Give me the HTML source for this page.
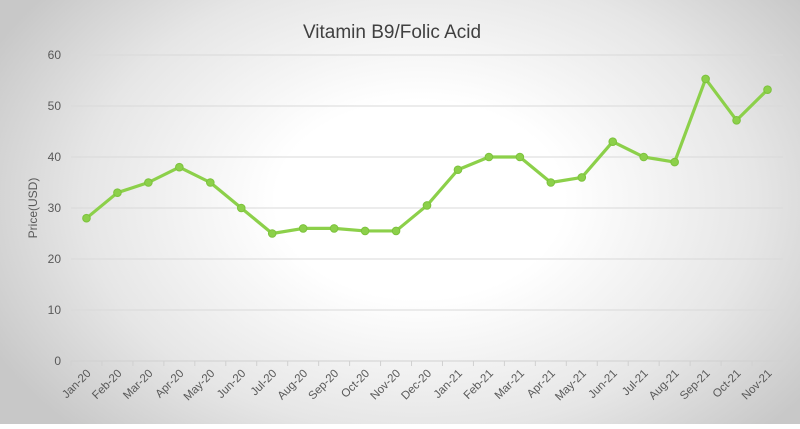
<!DOCTYPE html>
<html><head><meta charset="utf-8"><style>
body{margin:0;width:800px;height:424px;overflow:hidden}
#c{width:800px;height:424px;background:radial-gradient(ellipse 480px 330px at 420px 200px,#fff 30%,#e6e6e6 70%,#c8c8c8 100%);}
text{font-family:"Liberation Sans",sans-serif;fill:#595959}
</style></head><body>
<div id="c">
<svg id="s" width="800" height="424">
<text x="392" y="38" text-anchor="middle" font-size="19" style="fill:#404040">Vitamin B9/Folic Acid</text>
<text transform="translate(37,208) rotate(-90)" text-anchor="middle" font-size="12">Price(USD)</text>
<g id="grid"></g><g id="xl"></g><g id="line"></g>
</svg></div>
<script>
const categories=["Jan-20","Feb-20","Mar-20","Apr-20","May-20","Jun-20","Jul-20","Aug-20","Sep-20","Oct-20","Nov-20","Dec-20","Jan-21","Feb-21","Mar-21","Apr-21","May-21","Jun-21","Jul-21","Aug-21","Sep-21","Oct-21","Nov-21"];
const prices=[28,33,35,38,35,30,25,26,26,25.5,25.5,30.5,37.5,40,40,35,36,43,40,39,55.3,47.2,53.2];
const yTicks=[0,10,20,30,40,50,60];
const NS="http://www.w3.org/2000/svg";
const x0=71,x1=783,y0=361,y60=55;
const bw=(x1-x0)/categories.length;
const X=i=>x0+bw*(i+0.5);
const Y=v=>y0-(v/60)*(y0-y60);
function mk(t,a,p){const e=document.createElementNS(NS,t);for(const k in a)e.setAttribute(k,a[k]);p.appendChild(e);return e;}
const g=document.getElementById('grid');
yTicks.forEach(v=>{
 const l=mk('line',{x1:x0,x2:x1,y1:Y(v),y2:Y(v),stroke:v?'#d9d9d9':'#d0d0d0','stroke-width':1},g);
 
 
 const t=mk('text',{x:61,y:Y(v)+4,'text-anchor':'end','font-size':12},g);t.textContent=v;
 
 
});
const xl=document.getElementById('xl');
categories.forEach((c,i)=>{
 const tk=mk('line',{x1:x0+bw*i,x2:x0+bw*i,y1:y0,y2:y0+5,stroke:'#d0d0d0'},xl);
 
 
 const t=mk('text',{transform:`translate(${X(i)+5},${y0+13}) rotate(-45)`,'text-anchor':'end','font-size':11.5},xl);t.textContent=c;
 
 
});
const lg=document.getElementById('line');
const p=mk('polyline',{points:prices.map((v,i)=>X(i)+','+Y(v)).join(' '),fill:'none',stroke:'#8cd04a','stroke-width':3.2,'stroke-linejoin':'round'},lg);


prices.forEach((v,i)=>{
 const c=mk('circle',{cx:X(i),cy:Y(v),r:3.8,fill:'#8cd04a',stroke:'#7cc23c','stroke-width':1},lg);
 
 
});
</script></body></html>
